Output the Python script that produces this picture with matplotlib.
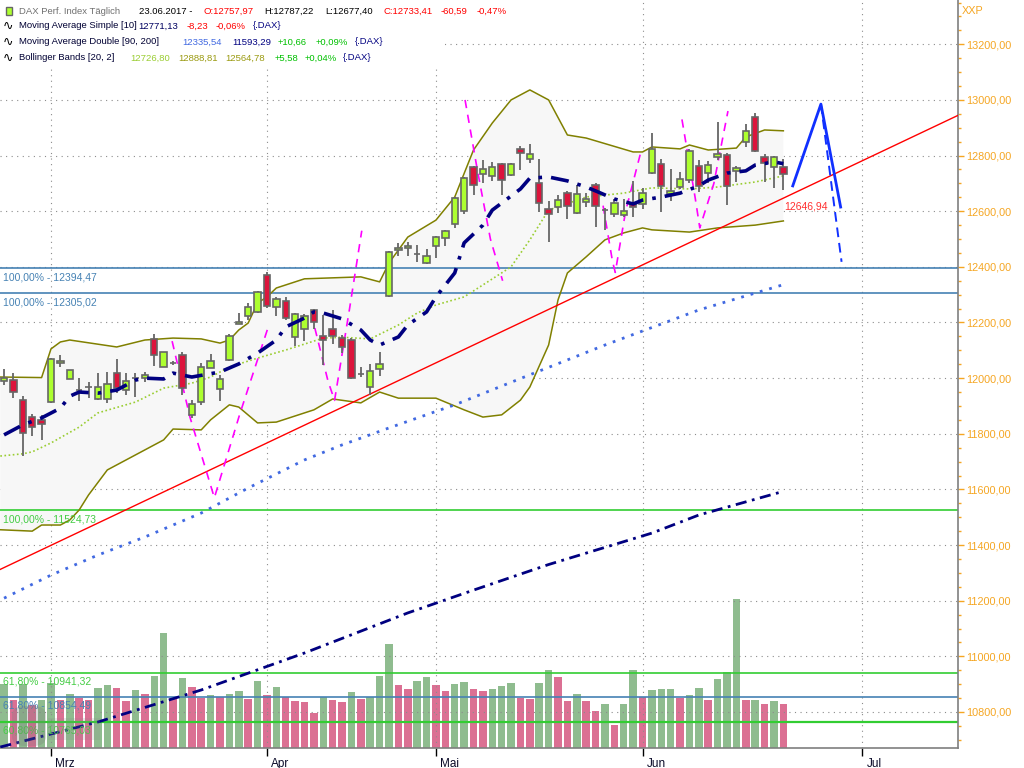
import matplotlib

matplotlib.use("Agg")
import matplotlib.pyplot as plt  # noqa: E402
from matplotlib.patches import FancyBboxPatch, Rectangle  # noqa: E402
import numpy as np  # noqa: E402

# --- daily DAX candles, 22.02.2017 .. 23.06.2017 ---------------------------
opens = [11989, 11995, 11920, 11859, 11849, 11915, 12053, 11997, 11957, 11968,
         11924, 11924, 12018, 11957, 12000, 12000, 12140, 12040, 12054, 12083,
         11867, 11914, 12036, 11960, 12065, 12194, 12223, 12238, 12371, 12256,
         12278, 12148, 12176, 12245, 12151, 12176, 12144, 12137, 12014, 11968,
         12032, 12295, 12460, 12468, 12446, 12414, 12475, 12504, 12554, 12601,
         12759, 12734, 12727, 12770, 12730, 12824, 12788, 12701, 12608, 12615,
         12665, 12594, 12633, 12694, 12604, 12590, 12586, 12626, 12626, 12737,
         12770, 12662, 12687, 12712, 12763, 12738, 12795, 12802, 12745, 12849,
         12939, 12795, 12759, 12757.97]
highs = [12032, 12017, 11935, 11870, 11867, 12072, 12083, 12031, 12000, 11987,
         12018, 12022, 12067, 12018, 12018, 12022, 12158, 12094, 12061, 12094,
         11921, 12054, 12086, 12011, 12160, 12234, 12270, 12313, 12381, 12292,
         12292, 12234, 12231, 12248, 12227, 12245, 12155, 12144, 12040, 12050,
         12094, 12457, 12486, 12490, 12478, 12464, 12511, 12532, 12651, 12723,
         12763, 12784, 12777, 12773, 12773, 12835, 12842, 12788, 12637, 12658,
         12673, 12694, 12665, 12701, 12612, 12644, 12644, 12708, 12683, 12881,
         12788, 12752, 12741, 12824, 12784, 12781, 12921, 12809, 12763, 12914,
         12953, 12806, 12799, 12787.22]
lows = [11975, 11927, 11719, 11791, 11777, 11911, 12041, 11996, 11917, 11928,
        11920, 11910, 11946, 11939, 11932, 11986, 12043, 12040, 12047, 11939,
        11856, 11903, 12036, 11917, 12061, 12194, 12209, 12234, 12252, 12223,
        12209, 12115, 12133, 12176, 12047, 12122, 12090, 11996, 12004, 11939,
        12007, 12291, 12439, 12439, 12417, 12410, 12432, 12475, 12540, 12590,
        12658, 12702, 12709, 12658, 12727, 12748, 12773, 12597, 12489, 12594,
        12572, 12590, 12615, 12543, 12532, 12579, 12579, 12579, 12608, 12734,
        12597, 12637, 12680, 12701, 12669, 12701, 12784, 12622, 12705, 12831,
        12813, 12705, 12683, 12677.40]
closes = [11999, 11949, 11803, 11824, 11834, 12067, 12061, 12029, 11957, 11968,
          11968, 11978, 11964, 11989, 12000, 12011, 12083, 12094, 12054, 11964,
          11906, 12040, 12061, 11996, 12151, 12202, 12255, 12309, 12259, 12285,
          12216, 12231, 12223, 12202, 12137, 12151, 12112, 12000, 12014, 12025,
          12050, 12453, 12468, 12475, 12446, 12439, 12507, 12529, 12648, 12720,
          12694, 12752, 12759, 12712, 12770, 12809, 12806, 12630, 12590, 12640,
          12619, 12662, 12644, 12619, 12604, 12629, 12601, 12615, 12665, 12824,
          12691, 12673, 12716, 12817, 12691, 12766, 12806, 12691, 12755, 12888,
          12817, 12773, 12795, 12733.41]
volumes = [64, 48, 64, 43, 48, 65, 48, 54, 50, 48,
           60, 63, 60, 47, 58, 54, 72, 115, 50, 70,
           61, 50, 53, 51, 54, 57, 49, 67, 53, 61,
           51, 47, 46, 35, 51, 48, 46, 56, 49, 51,
           72, 104, 63, 59, 67, 71, 63, 57, 64, 66,
           59, 57, 59, 62, 65, 50, 49, 65, 78, 71,
           47, 54, 47, 37, 44, 23, 44, 78, 51, 58,
           59, 59, 50, 53, 60, 48, 69, 76, 149, 48,
           48, 44, 47, 44]
volume_up = ("GPGPGGPGPP" "GGPPGPGGPG" "PPGPGGPGPG" "PPPPGPPGPG" "GGPPGGPPGG"
             "PPGGGPPGGP" "PGPPGPGGPG" "GGPGGPGGGP" "GPGP")

# --- indicators (bar index, value) ----------------------------------------
bb_upper_idx = [-0.4, 4, 5, 6, 7, 12, 15, 18, 21, 23, 24, 25, 26, 27, 28, 29, 32, 38,
                40, 41, 43, 46, 48, 50, 52, 54, 56, 58, 60, 62, 67, 68, 69, 72,
                73, 75, 78, 79, 81, 83]
bb_upper = [12004, 12002, 12105, 12130, 12137, 12112, 12137, 12144, 12141, 12126,
            12137, 12173, 12198, 12270, 12292, 12324, 12357, 12364, 12346, 12414,
            12507, 12568, 12651, 12820, 12917, 13000, 13036, 13000, 12874, 12863,
            12813, 12813, 12831, 12824, 12838, 12820, 12827, 12867, 12892, 12889]
bb_lower_idx = [-0.4, 3, 4, 6, 7, 8, 9, 11, 13, 17, 18, 21, 22, 24, 25, 27, 29, 33,
                35, 38, 40, 42, 46, 49, 51, 53, 55, 56, 58, 59, 60, 62, 64, 66,
                68, 69, 73, 76, 80, 83]
bb_lower = [11455, 11450, 11472, 11472, 11490, 11526, 11580, 11670, 11706, 11778,
            11817, 11814, 11850, 11904, 11896, 11839, 11842, 11886, 11925, 11911,
            11950, 11928, 11928, 11886, 11860, 11868, 11921, 11968, 12119, 12281,
            12378, 12436, 12497, 12522, 12540, 12533, 12525, 12540, 12550, 12565]
bb_mid_idx = [-0.4, 2, 3, 5, 8, 10, 14, 17, 20, 22, 24, 27, 30, 34, 36, 39, 42, 44,
              46, 49, 51, 54, 56, 58, 62, 66, 69, 73, 76, 80, 83]
bb_mid = [11720, 11728, 11735, 11767, 11824, 11875, 11914, 11964, 11982, 12004,
          12040, 12072, 12101, 12144, 12147, 12141, 12191, 12234, 12263, 12292,
          12335, 12400, 12497, 12604, 12651, 12665, 12684, 12680, 12687, 12705,
          12727]
sma10_idx = [0, 2, 4, 6, 7, 8, 10, 12, 14, 15, 17, 18, 20, 23, 25, 27, 29, 30, 32,
             33, 34, 36, 38, 39, 40, 42, 43, 45, 46, 48, 49, 51, 52, 55, 56, 58,
             60, 62, 63, 65, 67, 68, 70, 72, 74, 75, 77, 79, 80, 82, 83]
sma10 = [11796, 11832, 11857, 11892, 11935, 11950, 11946, 11957, 11993, 12000,
         11997, 12018, 12004, 12022, 12051, 12090, 12137, 12184, 12216, 12238,
         12234, 12213, 12173, 12137, 12119, 12148, 12191, 12238, 12292, 12378,
         12486, 12550, 12604, 12680, 12719, 12723, 12709, 12687, 12673, 12644,
         12626, 12640, 12651, 12665, 12691, 12712, 12737, 12745, 12766, 12777,
         12771]
ma90_idx = [0, 5, 10, 15, 21, 26, 32, 36, 41, 48, 56, 64, 74, 83]
ma90 = [11209, 11292, 11364, 11429, 11515, 11605, 11706, 11760, 11821, 11904,
        12012, 12119, 12245, 12336]
ma200_idx = [-0.4, 10, 21, 32, 43, 50, 58, 69, 74, 83]
ma200 = [10674, 10764, 10879, 11012, 11156, 11238, 11330, 11443, 11508, 11593]

# --- drawings ---------------------------------------------------------------
trend_a = (0, 11319)
trend_b = (83, 12646.94)
cycle_arcs = [
    ([17.9, 19.8, 22.4, 25.1, 28.1], [12133, 11860, 11570, 11870, 12180]),
    ([33.1, 34.5, 35.2, 36.8, 38.1], [12180, 11990, 11920, 12250, 12530]),
    ([49.1, 50.4, 51.8, 53.1], [13000, 12750, 12500, 12350]),
    ([63.8, 64.8, 65.1, 66.2, 67.8], [12620, 12420, 12380, 12600, 12810]),
    ([72.2, 73.6, 74.1, 75.6, 77.1], [12930, 12650, 12540, 12700, 12960]),
]
forecast_idx = [84.0, 87.0, 89.1]
forecast = [12691, 12985, 12615]
forecast_alt_idx = [87.0, 89.2]
forecast_alt = [12985, 12418]
levels_blue = [12394.47, 12305.02, 10854.49]
levels_green = [11524.73, 10941.32, 10765.03]
level_labels = {12394.47: "100,00% - 12394,47", 12305.02: "100,00% - 12305,02",
                11524.73: "100,00% - 11524,73", 10941.32: "61,80% - 10941,32",
                10854.49: "61,80% - 10854,49", 10765.03: "60,80% - 10765,03"}
month_pos = [5, 28, 46, 68, 91.4]
month_names = ["Mrz", "Apr", "Mai", "Jun", "Jul"]

PRICE_LIM = (10670.5, 13359.2)
X_LIM = (-0.43, 101.6)
FONT = ["Liberation Sans", "DejaVu Sans"]


def fmt(v):
    return f"{v:.2f}".replace(".", ",")


plt.rcParams["font.family"] = FONT

fig = plt.figure(figsize=(10.24, 7.68), dpi=100)
fig.patch.set_facecolor("white")
rect = [0.0, 20 / 768, 958 / 1024, 748 / 768]
vax = fig.add_axes(rect)
ax = fig.add_axes(rect, sharex=vax)
ax.patch.set_alpha(0)
vax.set_axis_off()
vax.set_ylim(0, 748)
ax.set_xlim(*X_LIM)
ax.set_ylim(*PRICE_LIM)

n = len(closes)
idx = np.arange(n)

# volume
vcol = ["#8fbc8f" if c == "G" else "#db7093" for c in volume_up]
vax.bar(idx, volumes, width=0.8, color=vcol, linewidth=0)

# grid
for p in range(10800, 13400, 200):
    ax.axhline(p, color="#8c8c8c", lw=0.8, ls=(0, (1, 4)), zorder=0)
for m in month_pos:
    ax.axvline(m, color="#8c8c8c", lw=0.8, ls=(0, (1, 4)), zorder=0)

# bollinger area + lines
poly_x = list(bb_upper_idx) + list(bb_lower_idx[::-1])
poly_y = list(bb_upper) + list(bb_lower[::-1])
ax.fill(poly_x, poly_y, color="#f7f7f7", lw=0, zorder=1)
ax.plot(bb_upper_idx, bb_upper, color="#808000", lw=1.1, zorder=3)
ax.plot(bb_lower_idx, bb_lower, color="#808000", lw=1.1, zorder=3)
ax.plot(bb_mid_idx, bb_mid, color="#9acd32", lw=1.2, ls=(0, (1, 1.5)), zorder=3)

# moving averages
ax.plot(ma90_idx, ma90, color="#4169e1", lw=2.0, ls=(0, (1, 2.5)), zorder=3)
ax.plot(ma200_idx, ma200, color="#000080", lw=2.0, ls=(0, (4, 2, 1, 2)), zorder=3)

# horizontal levels
for lv in levels_blue:
    ax.axhline(lv, color="#4682b4", lw=1.2, zorder=2)
for lv in levels_green:
    ax.axhline(lv, color="#32cd32", lw=1.6 if lv < 10800 else 1.2, zorder=2)
for lv, txt in level_labels.items():
    col = "#4682b4" if lv in levels_blue else "#44cc44"
    ax.annotate(txt, xy=(0, lv), xycoords=("axes fraction", "data"),
                xytext=(2, -3), textcoords="offset points", color=col,
                fontsize=7.5, va="top", ha="left", zorder=4)

# trend line
ax.axline(trend_a, trend_b, color="#ff0000", lw=1.0, zorder=3)
ax.annotate(fmt(trend_b[1]), xy=(83.1, 12618), color="#ff3030", fontsize=7.5,
            va="center", ha="left", zorder=6)

# cycle arcs
for xs, ys in cycle_arcs:
    ax.plot(xs, ys, color="#ff00ff", lw=1.2, ls=(0, (5, 4)), zorder=3)

# candles
wick_col = "#666666"
ax.vlines(idx, lows, highs, color=wick_col, lw=1.3, zorder=4)
body_col = []
for o, c in zip(opens, closes):
    if abs(c - o) < 1:
        body_col.append(wick_col)
    elif c > o:
        body_col.append("#adff2f")
    else:
        body_col.append("#dc143c")
bottoms = np.minimum(opens, closes)
heights = np.abs(np.array(closes) - np.array(opens))
ax.bar(idx, heights, bottom=bottoms, width=0.68, color=body_col,
       edgecolor=wick_col, linewidth=1.2, zorder=5)

# SMA 10 on top of candles
ax.plot(sma10_idx, sma10, color="#000080", lw=2.6, ls=(0, (5, 2.5, 1, 2.5)), zorder=6)

# forecast
ax.plot(forecast_idx, forecast, color="#1030ff", lw=2.0, zorder=6)
ax.plot(forecast_alt_idx, forecast_alt, color="#1030ff", lw=1.4, ls=(0, (5, 3)), zorder=6)

# axes styling
for s in ("top", "left"):
    ax.spines[s].set_visible(False)
ax.spines["right"].set_color("#7f7f7f")
ax.spines["bottom"].set_color("#7f7f7f")
ax.spines["right"].set_linewidth(1.2)
ax.spines["bottom"].set_linewidth(1.2)
ax.yaxis.tick_right()
ax.set_yticks(np.arange(10800, 13400, 200))
ax.set_yticks(np.arange(10700, 13400, 50), minor=True)
ax.set_yticklabels([fmt(v) for v in np.arange(10800, 13400, 200)])
ax.tick_params(axis="y", which="both", colors="#f5a623", labelsize=7.8, pad=2,
               direction="out")
ax.tick_params(axis="y", which="major", length=4, width=1)
ax.tick_params(axis="y", which="minor", length=2.5, width=1)
ax.set_xticks(month_pos)
ax.set_xticklabels([])
ax.tick_params(axis="x", length=6, width=1, color="#000000", direction="out")
for m, name in zip(month_pos, month_names):
    ax.annotate(name, xy=(m, 0), xycoords=("data", "axes fraction"),
                xytext=(3, -7), textcoords="offset points", fontsize=8.5,
                color="#0a0a28", ha="left", va="top")

fig.text(962 / 1024, 1 - 11 / 768, "XXP", color="#f5a623", fontsize=7.8,
         ha="left", va="center")

# faint logo watermark in the volume corner
fig.patches.append(FancyBboxPatch((12 / 1024, 1 - 746 / 768), 34 / 1024, 40 / 768,
                                  boxstyle="round,pad=0,rounding_size=0.012",
                                  transform=fig.transFigure, facecolor="#7a7a7a",
                                  edgecolor="none", alpha=0.28, zorder=1))
fig.patches.append(Rectangle((48 / 1024, 1 - 740 / 768), 52 / 1024, 22 / 768,
                             transform=fig.transFigure, facecolor="#8a8a8a",
                             edgecolor="none", alpha=0.18, zorder=1))

# legend block
fig.patches.append(Rectangle((0, 1 - 66 / 768), 445 / 1024, 66 / 768,
                             transform=fig.transFigure, facecolor="white",
                             edgecolor="none", zorder=1))


def ltext(x, y, s, color, **kw):
    fig.text(x / 1024, 1 - y / 768, s, color=color, fontsize=6.8, ha="left",
             va="center", zorder=2, **kw)


fig.patches.append(Rectangle((6 / 1024, 1 - 15 / 768), 6 / 1024, 8 / 768,
                             transform=fig.transFigure, facecolor="#adff2f",
                             edgecolor="#666666", lw=1, zorder=2))
line1 = [(19, "DAX Perf. Index Täglich", "#707070"), (139, "23.06.2017 -", "#000000"),
         (204, "O:12757,97", "#ff0000"), (264, "H:12787,22", "#000000"),
         (325, "L:12677,40", "#000000"), (384, "C:12733,41", "#ff0000"),
         (441, "-60,59", "#ff0000"), (477, "-0,47%", "#ff0000")]
line2 = [(19, "Moving Average Simple [10]", "#000033"), (138, "12771,13", "#000060"),
         (187, "-8,23", "#ff0000"), (216, "-0,06%", "#ff0000"), (253, "{.DAX}", "#000080")]
line3 = [(19, "Moving Average Double [90, 200]", "#000033"), (182, "12335,54", "#4169e1"),
         (232, "11593,29", "#000080"), (278, "+10,66", "#00c000"),
         (316, "+0,09%", "#00c000"), (355, "{.DAX}", "#000080")]
line4 = [(19, "Bollinger Bands [20, 2]", "#000033"), (130, "12726,80", "#9acd32"),
         (178, "12888,81", "#9a9a10"), (225, "12564,78", "#9a9a10"),
         (275, "+5,58", "#00c000"), (305, "+0,04%", "#00c000"), (343, "{.DAX}", "#000080")]
for y, row in ((11, line1), (26, line2), (42, line3), (58, line4)):
    for x, s, c in row:
        ltext(x, y, s, c)
for y in (26, 42, 58):
    fig.text(3 / 1024, 1 - y / 768, "∿", color="#000000", fontsize=9, ha="left",
             va="center", zorder=2, family="DejaVu Sans")

fig.savefig("out.png", dpi=100, facecolor="white")
